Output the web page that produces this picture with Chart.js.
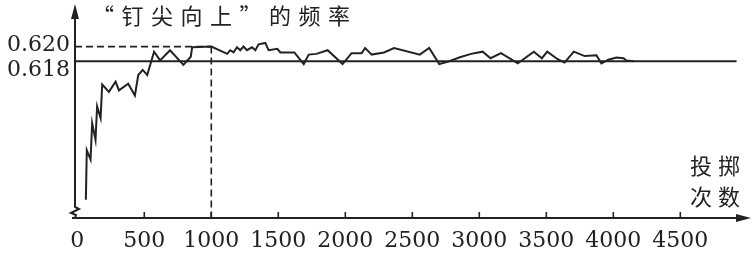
<!DOCTYPE html>
<html>
<head>
<meta charset="utf-8">
<script src="https://cdn.jsdelivr.net/npm/chart.js@4"></script>
<style>
html,body{margin:0;padding:0;background:#fff;}
#c{display:block;}
</style>
</head>
<body>
<canvas id="c" width="756" height="253"></canvas>
<script>
// ---- data ----
const trials = [64,71,99,111,136,148,174,186,236,286,311,380,430,455,488,522,573,618,692,792,847,857,1000,1119,1141,1166,1192,1216,1241,1266,1304,1329,1353,1403,1428,1493,1516,1620,1690,1727,1785,1868,1980,2047,2122,2148,2197,2289,2364,2556,2626,2701,2763,2850,2938,3025,3084,3162,3287,3407,3467,3507,3582,3636,3705,3786,3874,3911,3963,4023,4076,4098,4150];
const freq = [0.5990,0.6058,0.6045,0.6095,0.6072,0.6118,0.6102,0.6148,0.6138,0.6152,0.6140,0.6149,0.6133,0.6161,0.6168,0.6161,0.6193,0.6181,0.6195,0.6175,0.6186,0.6199,0.6200,0.6190,0.6195,0.6192,0.6199,0.6195,0.6200,0.6195,0.6199,0.6195,0.6203,0.6205,0.6195,0.6197,0.6192,0.6192,0.6176,0.6189,0.6190,0.6195,0.6176,0.6191,0.6191,0.6198,0.6189,0.6192,0.6198,0.6189,0.6198,0.6176,0.6179,0.6185,0.6190,0.6193,0.6184,0.6191,0.6177,0.6193,0.6184,0.6193,0.6183,0.6178,0.6193,0.6187,0.6188,0.6177,0.6182,0.6185,0.6184,0.6181,0.6180];
const xTicks = [0,500,1000,1500,2000,2500,3000,3500,4000,4500];
const yTicks = [0.618, 0.620];
const yTickLabels = ['0.618','0.620'];
const stableFreq = 0.618;
const refFreq = 0.620;
const refTrials = 1000;
const stableEnd = 4920;
const titleText = '“钉尖向上”的频率';
const xTitleLines = ['投掷','次数'];

const X_MIN = -17, X_MAX = 5020;
const Y_MIN = 0.5965, Y_MAX = 0.6257;
const INK = '#222';

const decor = {
  id: 'decor',
  afterDraw(chart) {
    const ctx = chart.ctx;
    const xs = chart.scales.x, ys = chart.scales.y;
    const a = chart.chartArea;
    const x0 = a.left, yb = a.bottom;
    ctx.save();
    ctx.strokeStyle = INK; ctx.fillStyle = INK;
    ctx.lineWidth = 2; ctx.lineCap = 'butt';
    // y axis with break
    ctx.beginPath();
    ctx.moveTo(x0, a.top + 10);
    ctx.lineTo(x0, yb - 11);
    ctx.lineTo(x0 + 4, yb - 9);
    ctx.lineTo(x0 - 4, yb - 5);
    ctx.lineTo(x0 + 1, yb - 3);
    ctx.lineTo(x0, yb);
    ctx.stroke();
    // x axis
    ctx.beginPath();
    ctx.moveTo(x0 - 3, yb);
    ctx.lineTo(a.right - 10, yb);
    ctx.stroke();
    // arrows
    ctx.beginPath();
    ctx.moveTo(x0, a.top - 1);
    ctx.lineTo(x0 - 4, a.top + 14);
    ctx.lineTo(x0 + 4, a.top + 14);
    ctx.closePath(); ctx.fill();
    ctx.beginPath();
    ctx.moveTo(a.right + 1, yb);
    ctx.lineTo(a.right - 14, yb - 4);
    ctx.lineTo(a.right - 14, yb + 4);
    ctx.closePath(); ctx.fill();
    // x tick marks (inside)
    ctx.lineWidth = 1.6;
    xTicks.forEach(v => {
      if (v <= 0) return;
      const px = xs.getPixelForValue(v);
      ctx.beginPath(); ctx.moveTo(px, yb); ctx.lineTo(px, yb - 6); ctx.stroke();
    });
    // y tick labels
    ctx.font = '22px "DejaVu Serif"';
    ctx.textAlign = 'right'; ctx.textBaseline = 'middle';
    const offs = [9, -1];
    yTicks.forEach((v, i) => {
      ctx.fillText(yTickLabels[i], x0 - 5, ys.getPixelForValue(v) + offs[i]);
    });
    // title
    ctx.font = '22px "Noto Sans CJK SC"';
    ctx.textAlign = 'left'; ctx.textBaseline = 'middle';
    try { ctx.letterSpacing = '7.5px'; } catch(e) {}
    ctx.fillText(titleText, 92, 16);
    // x axis title
    ctx.font = '22px "Noto Sans CJK SC"';
    try { ctx.letterSpacing = '6px'; } catch(e) {}
    ctx.fillText(xTitleLines[0], 690, 166);
    ctx.fillText(xTitleLines[1], 690, 197);
    ctx.restore();
  }
};

const pts = trials.map((t, i) => ({x: t, y: freq[i]}));

new Chart(document.getElementById('c'), {
  type: 'line',
  data: {
    datasets: [
      { data: pts, borderColor: INK, borderWidth: 2, pointRadius: 0, tension: 0, fill: false },
      { data: [{x: X_MIN, y: stableFreq}, {x: stableEnd, y: stableFreq}], borderColor: INK, borderWidth: 2, pointRadius: 0, fill: false },
      { data: [{x: X_MIN, y: refFreq}, {x: refTrials, y: refFreq}], borderColor: INK, borderWidth: 1.6, borderDash: [7,4], pointRadius: 0, fill: false },
      { data: [{x: refTrials, y: refFreq}, {x: refTrials, y: Y_MIN}], borderColor: INK, borderWidth: 1.6, borderDash: [7,4], pointRadius: 0, fill: false }
    ]
  },
  options: {
    responsive: false,
    animation: false,
    devicePixelRatio: 1,
    layout: { padding: { left: 75, right: 6, top: 5, bottom: 0 } },
    plugins: { legend: { display: false }, tooltip: { enabled: false }, title: { display: false } },
    scales: {
      x: {
        type: 'linear', min: X_MIN, max: X_MAX,
        grid: { display: false, drawTicks: false },
        border: { display: false },
        afterBuildTicks: ax => { ax.ticks = xTicks.map(v => ({value: v})); },
        afterFit: ax => { ax.height = 35; },
        ticks: { autoSkip: false, maxRotation: 0, padding: 10, color: INK,
                 font: { family: 'DejaVu Serif', size: 22 }, callback: v => String(v) }
      },
      y: {
        type: 'linear', min: Y_MIN, max: Y_MAX,
        grid: { display: false, drawTicks: false },
        border: { display: false },
        ticks: { display: false },
        afterFit: ax => { ax.width = 0; }
      }
    }
  },
  plugins: [decor]
});
</script>
</body>
</html>
